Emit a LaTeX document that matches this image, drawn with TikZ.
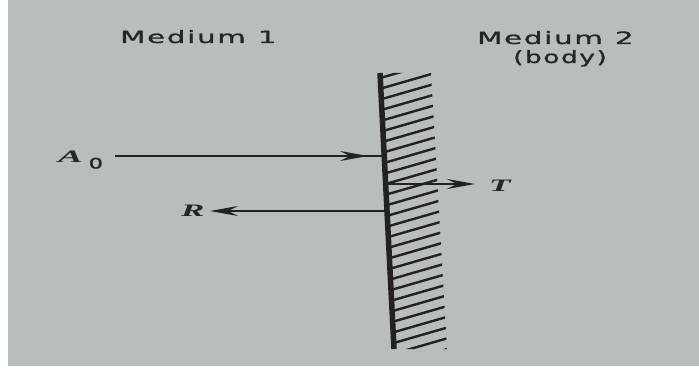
\documentclass[tikz,border=0pt]{standalone}
\usepackage{fontspec}
\usepackage{graphicx}
\setmainfont{Liberation Serif}
\newfontfamily\medfont[LetterSpace=6,FakeBold=1]{DejaVu Sans}
\newfontfamily\subfont[FakeBold=1]{DejaVu Sans}
\usetikzlibrary{arrows.meta}
\definecolor{paper}{RGB}{184,190,188}
\definecolor{ink}{RGB}{34,34,34}
\definecolor{txt}{RGB}{38,38,38}
\begin{document}
\begin{tikzpicture}[x=1pt,y=-1pt,
  medtext/.style={anchor=base west, inner sep=0pt, text=txt, font=\medfont\fontsize{17}{19}\selectfont},
  symtext/.style={anchor=base west, inner sep=0pt, text=txt, font=\bfseries\itshape\fontsize{17.5}{19}\selectfont},
  rayline/.style={draw=ink, line width=2pt},
  ray/.style={rayline, -{Stealth[length=28pt,width=10pt,inset=10pt]}},
  wallline/.style={draw=ink, line width=5.5pt},
  hatchline/.style={draw=ink, line width=2.4pt}]
\useasboundingbox (0,0) rectangle (699,374);
\fill[white] (0,0) rectangle (699,374);
\fill[paper] (8,0) rectangle (699,366);

% labels
\node[medtext] (m1) at (120,43) {\scalebox{1.72}[1]{Medium\hspace{7pt}1}};
\node[medtext] (m2) at (477,44) {\scalebox{1.72}[1]{Medium\hspace{7pt}2}};
\node[medtext] (body) at (513,63) {\scalebox{1.55}[1]{(body)}};
\node[symtext] (A0) at (58,163) {\scalebox{2.1}[1]{A}\hspace{6pt}\raisebox{-5.5pt}{\subfont\mdseries\upshape\fontsize{14.5}{15}\selectfont\scalebox{1.55}[1]{0}}};
\node[symtext] (R) at (181,217) {\scalebox{2}[1]{R}};
\node[symtext] (T) at (489,192) {\scalebox{2}[1]{T}};

% hatching of medium 2
\begin{scope}
\clip (381,73) -- (431,73) -- (447,349) -- (395,349) -- cycle;
\foreach \i in {0,...,27} {
  \pgfmathsetmacro\yy{78+10.6*\i}
  \pgfmathsetmacro\xx{380+14*(\yy-73)/276}
  \draw[hatchline] (\xx,\yy) -- ++(60,-17.3);
}
\end{scope}

% wall
\coordinate (wtop) at (380,73);
\coordinate (wbot) at (394,349);
\draw[wallline] (wtop) -- (wbot);

% rays
\coordinate (a0start) at (115,156);
\coordinate (a0tip) at (368,156);
\coordinate (a0mid) at (356,156);
\coordinate (hitA) at (383,156);
\coordinate (hitT) at (386,184);
\coordinate (tTip) at (475,184);
\coordinate (hitR) at (386,211);
\coordinate (rTip) at (210,211);
\draw[rayline] (a0mid) -- (hitA);
\draw[ray] (a0start) -- (a0tip);
\draw[ray] (hitT) -- (tTip);
\draw[ray] (hitR) -- (rTip);
\end{tikzpicture}
\end{document}
